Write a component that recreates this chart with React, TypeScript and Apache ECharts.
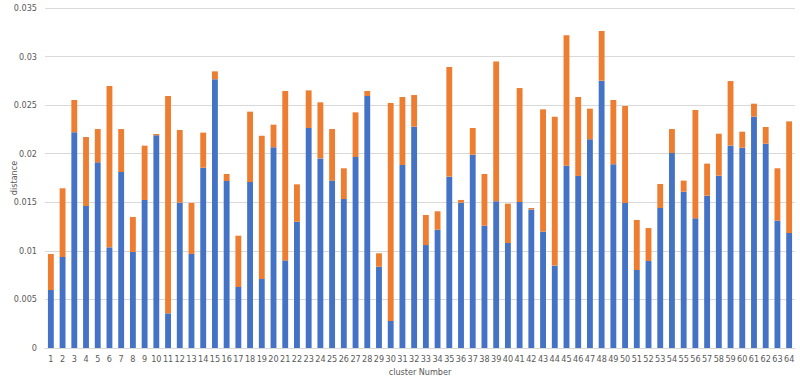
import React, { useEffect, useRef } from "react";
import * as echarts from "echarts";

const clusters: string[] = Array.from({ length: 64 }, (_, i) => String(i + 1));

const blueValues: number[] = [
  0.00597, 0.00937, 0.0222, 0.01462, 0.01911, 0.01036, 0.01812, 0.00988,
  0.01524, 0.02189, 0.00357, 0.01496, 0.00968, 0.01856, 0.02766, 0.01719,
  0.00628, 0.01709, 0.0071, 0.02066, 0.00902, 0.013, 0.02265, 0.01952,
  0.01723, 0.01534, 0.01966, 0.02594, 0.00837, 0.00278, 0.01884, 0.02278,
  0.0106, 0.01218, 0.01764, 0.01496, 0.0199, 0.01259, 0.0151, 0.01081,
  0.01503, 0.01427, 0.01198, 0.00848, 0.01877, 0.01771, 0.02148, 0.02752,
  0.01891, 0.01493, 0.00803, 0.00896, 0.01441, 0.02007, 0.01609, 0.01335,
  0.01568, 0.01774, 0.02083, 0.02062, 0.02381, 0.02103, 0.01311, 0.01184,
];

const totalValues: number[] = [
  0.00968, 0.01644, 0.02553, 0.02172, 0.02254, 0.02697, 0.02254, 0.01349,
  0.02083, 0.02203, 0.02594, 0.02244, 0.01493, 0.02217, 0.02848, 0.01791,
  0.01156, 0.02433, 0.02186, 0.02299, 0.02646, 0.01685, 0.02652, 0.02529,
  0.02254, 0.0185, 0.02426, 0.02646, 0.00975, 0.02522, 0.02584, 0.02604,
  0.01369, 0.01407, 0.02893, 0.01524, 0.02265, 0.01791, 0.02948, 0.01486,
  0.02676, 0.01441, 0.02457, 0.02381, 0.03219, 0.02584, 0.02464, 0.03263,
  0.02553, 0.02491, 0.01318, 0.01235, 0.01688, 0.02254, 0.01723, 0.0245,
  0.01898, 0.02206, 0.02748, 0.02227, 0.02515, 0.02275, 0.0185, 0.02333,
];

const orangeValues: number[] = totalValues.map((t, i) =>
  +(t - blueValues[i]).toFixed(5)
);

const yTicks = { min: 0, max: 0.035, interval: 0.005 };

export default function App() {
  const ref = useRef<HTMLDivElement>(null);
  useEffect(() => {
    document.body.style.margin = "0";
    if (!ref.current) return;
    const chart = echarts.init(ref.current, undefined, { renderer: "svg" });
    const font = "'Liberation Sans Narrow', 'DejaVu Sans Condensed', sans-serif";
    chart.setOption({
      animation: false,
      backgroundColor: "#ffffff",
      grid: { left: 45, right: 5, top: 8, bottom: 30, outerBoundsMode: "none", containLabel: false },
      xAxis: {
        type: "category",
        data: clusters,
        name: "cluster Number",
        nameLocation: "middle",
        nameGap: 18,
        nameTextStyle: { color: "#595959", fontSize: 9, fontFamily: font },
        axisLine: { lineStyle: { color: "#d9d9d9" } },
        axisTick: { show: false },
        axisLabel: {
          color: "#595959",
          fontSize: 9,
          fontFamily: font,
          interval: 0,
          margin: 6,
        },
      },
      yAxis: {
        type: "value",
        min: yTicks.min,
        max: yTicks.max,
        interval: yTicks.interval,
        name: "distance",
        nameLocation: "middle",
        nameGap: 27,
        nameRotate: 90,
        nameMoveOverlap: false,
        nameTextStyle: { color: "#595959", fontSize: 9, fontFamily: font },
        axisLine: { show: false },
        axisTick: { show: false },
        splitLine: { lineStyle: { color: "#d9d9d9", width: 1 } },
        axisLabel: {
          color: "#595959",
          fontSize: 9,
          fontFamily: font,
          margin: 8,
          formatter: (v: number) => String(+v.toFixed(3)),
        },
      },
      series: [
        {
          type: "bar",
          stack: "d",
          data: blueValues,
          barWidth: "50%",
          itemStyle: { color: "#4472C4" },
        },
        {
          type: "bar",
          stack: "d",
          data: orangeValues,
          barWidth: "50%",
          itemStyle: { color: "#ED7D31" },
        },
      ],
    });
    return () => chart.dispose();
  }, []);
  return <div ref={ref} style={{ width: 800, height: 378 }} />;
}
